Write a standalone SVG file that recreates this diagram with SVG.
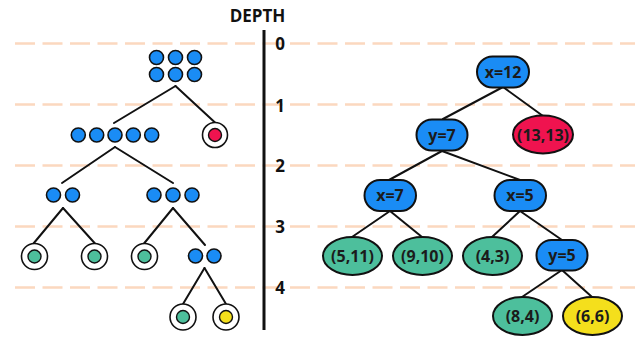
<svg xmlns="http://www.w3.org/2000/svg" width="635" height="337" viewBox="0 0 635 337">
<style>
.grid{stroke:#fbd8bf;stroke-width:2.5;stroke-dasharray:20 7.5;fill:none}
.edge{stroke:#111;stroke-width:2;fill:none;stroke-linecap:round}
.dot{fill:#1a8cf5;stroke:#111;stroke-width:1.6}
.ring{fill:#fff;stroke:#111;stroke-width:1.6}
.teal{fill:#4dbf9c;stroke:#111;stroke-width:1.4}
.red{fill:#ef134f;stroke:#111;stroke-width:1.4}
.yel{fill:#f4df1c;stroke:#111;stroke-width:1.4}
.box{fill:#1a8cf5;stroke:#111;stroke-width:2}
.ell-teal{fill:#4dbf9c;stroke:#111;stroke-width:2}
.ell-red{fill:#ef134f;stroke:#111;stroke-width:2}
.ell-yel{fill:#f4df1c;stroke:#111;stroke-width:2}
.lbl{font-family:"Open Sans","Noto Sans",sans-serif;font-weight:bold;font-size:16px;fill:#1b1b1b;text-anchor:middle}
.axis{font-family:"Open Sans","Noto Sans",sans-serif;font-weight:bold;font-size:17px;fill:#111;text-anchor:middle}
</style>
<rect width="635" height="337" fill="#fff"/>
<g id="grid">
<line class="grid" x1="15" y1="43.5" x2="635" y2="43.5"/>
<line class="grid" x1="15" y1="104.5" x2="635" y2="104.5"/>
<line class="grid" x1="15" y1="165.5" x2="635" y2="165.5"/>
<line class="grid" x1="15" y1="226.5" x2="635" y2="226.5"/>
<line class="grid" x1="15" y1="287.5" x2="635" y2="287.5"/>
</g>
<g id="axis">
<line x1="264" y1="30" x2="264" y2="330" stroke="#111" stroke-width="3"/>
<text class="axis" x="257.5" y="22">DEPTH</text>
<text class="axis" x="280" y="50">0</text>
<text class="axis" x="280" y="112">1</text>
<text class="axis" x="280" y="172">2</text>
<text class="axis" x="280" y="233">3</text>
<text class="axis" x="280" y="294">4</text>
</g>
<g id="connectors">
<line class="edge" x1="175.5" y1="86" x2="114" y2="123"/>
<line class="edge" x1="175.5" y1="86" x2="215" y2="122.5"/>
<line class="edge" x1="115" y1="147" x2="62" y2="183"/>
<line class="edge" x1="115" y1="147" x2="173" y2="183"/>
<line class="edge" x1="63" y1="208" x2="33.5" y2="243.5"/>
<line class="edge" x1="63" y1="208" x2="95" y2="243.5"/>
<line class="edge" x1="173" y1="208" x2="144" y2="243.5"/>
<line class="edge" x1="173" y1="208" x2="205" y2="245"/>
<line class="edge" x1="204.5" y1="268" x2="183" y2="304"/>
<line class="edge" x1="204.5" y1="268" x2="226" y2="304"/>
<line class="edge" x1="503" y1="87" x2="443" y2="119"/>
<line class="edge" x1="503" y1="87" x2="543" y2="116"/>
<line class="edge" x1="442" y1="151" x2="389" y2="180"/>
<line class="edge" x1="442" y1="151" x2="520" y2="180"/>
<line class="edge" x1="390" y1="211" x2="352" y2="237"/>
<line class="edge" x1="390" y1="211" x2="422" y2="237"/>
<line class="edge" x1="520" y1="211" x2="492" y2="237"/>
<line class="edge" x1="520" y1="211" x2="562" y2="240"/>
<line class="edge" x1="562" y1="270" x2="522" y2="297"/>
<line class="edge" x1="562" y1="270" x2="592" y2="297"/>
</g>
<g id="L-root">
<circle class="dot" cx="156.5" cy="57.5" r="7"/>
<circle class="dot" cx="175.5" cy="57.5" r="7"/>
<circle class="dot" cx="194.5" cy="57.5" r="7"/>
<circle class="dot" cx="156.5" cy="74.5" r="7"/>
<circle class="dot" cx="175.5" cy="74.5" r="7"/>
<circle class="dot" cx="194.5" cy="74.5" r="7"/>
</g>
<g id="L-1a">
<circle class="dot" cx="78.3" cy="135" r="7"/>
<circle class="dot" cx="96.7" cy="135" r="7"/>
<circle class="dot" cx="115" cy="135" r="7"/>
<circle class="dot" cx="133.3" cy="135" r="7"/>
<circle class="dot" cx="151.7" cy="135" r="7"/>
</g>
<g id="L-1b">
<circle class="ring" cx="215" cy="135" r="12.5"/>
<circle class="red" cx="215" cy="135" r="6.5"/>
</g>
<g id="L-2a">
<circle class="dot" cx="53.5" cy="195" r="7"/>
<circle class="dot" cx="72.5" cy="195" r="7"/>
</g>
<g id="L-2b">
<circle class="dot" cx="154" cy="195" r="7"/>
<circle class="dot" cx="173" cy="195" r="7"/>
<circle class="dot" cx="192" cy="195" r="7"/>
</g>
<g id="L-3a">
<circle class="ring" cx="34.5" cy="256.5" r="13"/>
<circle class="teal" cx="34.5" cy="256.5" r="6.5"/>
</g>
<g id="L-3b">
<circle class="ring" cx="94.5" cy="256.5" r="13"/>
<circle class="teal" cx="94.5" cy="256.5" r="6.5"/>
</g>
<g id="L-3c">
<circle class="ring" cx="144.5" cy="256.5" r="13"/>
<circle class="teal" cx="144.5" cy="256.5" r="6.5"/>
</g>
<g id="L-3d">
<circle class="dot" cx="195.5" cy="256" r="7"/>
<circle class="dot" cx="214" cy="256" r="7"/>
</g>
<g id="L-4a">
<circle class="ring" cx="183" cy="317" r="13"/>
<circle class="teal" cx="183" cy="317" r="6.5"/>
</g>
<g id="L-4b">
<circle class="ring" cx="226" cy="317" r="13"/>
<circle class="yel" cx="226" cy="317" r="6.5"/>
</g>
<g id="R-x12">
<rect class="box" x="477" y="56.5" width="52" height="31" rx="15.5"/>
<text class="lbl" x="503" y="77.5">x=12</text>
</g>
<g id="R-y7">
<rect class="box" x="416.5" y="119.5" width="51" height="31" rx="15.5"/>
<text class="lbl" x="442" y="140.5">y=7</text>
</g>
<g id="R-1313">
<ellipse class="ell-red" cx="543" cy="134.5" rx="30" ry="19"/>
<text class="lbl" x="543" y="140.5">(13,13)</text>
</g>
<g id="R-x7">
<rect class="box" x="364.5" y="180" width="51.5" height="31" rx="15.5"/>
<text class="lbl" x="390" y="201">x=7</text>
</g>
<g id="R-x5">
<rect class="box" x="494.5" y="180" width="51.5" height="31" rx="15.5"/>
<text class="lbl" x="520" y="201">x=5</text>
</g>
<g id="R-511">
<ellipse class="ell-teal" cx="352.5" cy="256" rx="29.5" ry="19"/>
<text class="lbl" x="352.5" y="262">(5,11)</text>
</g>
<g id="R-910">
<ellipse class="ell-teal" cx="422.5" cy="256" rx="29.5" ry="19"/>
<text class="lbl" x="422.5" y="262">(9,10)</text>
</g>
<g id="R-43">
<ellipse class="ell-teal" cx="492.5" cy="256" rx="29.5" ry="19"/>
<text class="lbl" x="492.5" y="262">(4,3)</text>
</g>
<g id="R-y5">
<rect class="box" x="536.5" y="240" width="51" height="30.5" rx="15"/>
<text class="lbl" x="562" y="261">y=5</text>
</g>
<g id="R-84">
<ellipse class="ell-teal" cx="522.5" cy="316" rx="29.5" ry="19"/>
<text class="lbl" x="522.5" y="322">(8,4)</text>
</g>
<g id="R-66">
<ellipse class="ell-yel" cx="592.5" cy="316" rx="29.5" ry="19"/>
<text class="lbl" x="592.5" y="322">(6,6)</text>
</g>
</svg>
